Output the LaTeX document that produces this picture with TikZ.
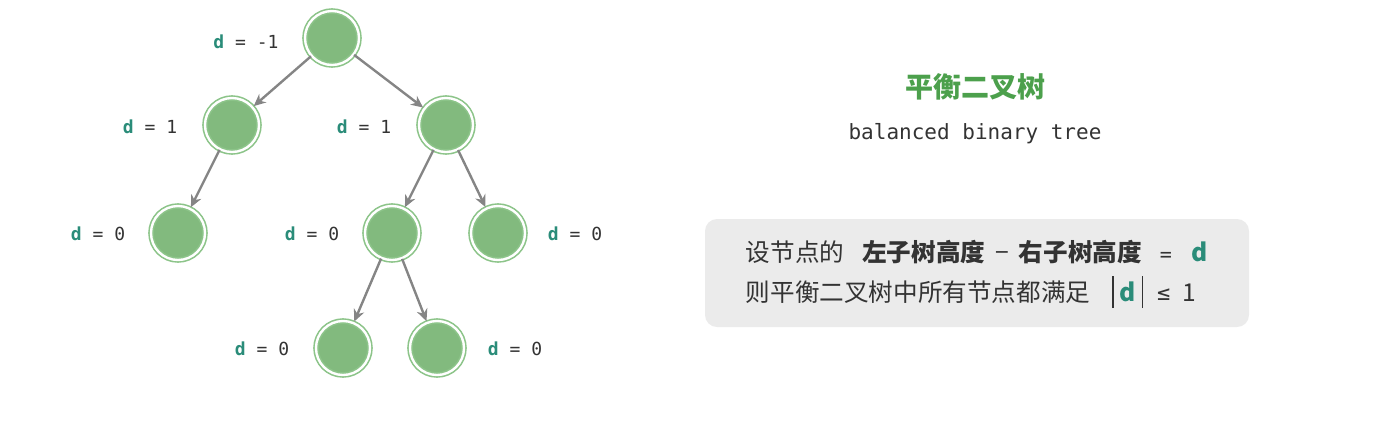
\documentclass[tikz,border=0pt]{standalone}
\usepackage{fontspec}
\usetikzlibrary{arrows.meta}
\setmonofont{DejaVu Sans Mono}
\newfontfamily\cjk{Noto Sans CJK SC}
\definecolor{nodefill}{HTML}{82BA7E}
\definecolor{nodering}{HTML}{8CC489}
\definecolor{edgegray}{HTML}{858585}
\definecolor{dteal}{HTML}{2A8C79}
\definecolor{titlegreen}{HTML}{4CA04C}
\definecolor{textgray}{HTML}{333333}
\definecolor{boxgray}{HTML}{EBEBEB}
\newcommand{\dd}{\textcolor{dteal}{\bfseries d}}
\newcommand{\vbar}{\rule[-3.5pt]{0.7pt}{16pt}}

\begin{document}
\begin{tikzpicture}[
  x = 0.5pt,
  y = -0.5pt,
  treenode/.style = {
    shape = circle,
    fill = nodefill,
    draw = nodering,
    double = white,
    double distance = 1.2pt,
    line width = 0.8pt,
    minimum size = 27pt,
    inner sep = 0pt,
  },
  dlabel/.style = {
    font = \ttfamily\fontsize{9}{10}\selectfont,
    text = textgray,
  },
  arr/.style = {
    -{Stealth[length = 6pt, width = 5.5pt]},
    draw = edgegray,
    line width = 1.2pt,
    shorten > = 0.5pt,
  },
  every path/.style = {
    thick
  }
]
  \useasboundingbox (0, 0) rectangle (1376, 430);

  % tree
  \node[treenode] (n1) at (332, 38) {};
  \node[treenode] (n2) at (232, 125) {};
  \node[treenode] (n3) at (446, 125) {};
  \node[treenode] (n4) at (178, 233) {};
  \node[treenode] (n5) at (392, 233) {};
  \node[treenode] (n6) at (498, 233) {};
  \node[treenode] (n7) at (343, 348) {};
  \node[treenode] (n8) at (437, 348) {};

  \draw[arr] (n1) -- (n2);
  \draw[arr] (n1) -- (n3);
  \draw[arr] (n2) -- (n4);
  \draw[arr] (n3) -- (n5);
  \draw[arr] (n3) -- (n6);
  \draw[arr] (n5) -- (n7);
  \draw[arr] (n5) -- (n8);

  % balance factors
  \node[dlabel] (d1) at (246, 42) {\dd{} = -1};
  \node[dlabel] (d2) at (150, 127) {\dd{} = 1};
  \node[dlabel] (d3) at (364, 127) {\dd{} = 1};
  \node[dlabel] (d4) at (98, 234) {\dd{} = 0};
  \node[dlabel] (d5) at (312, 234) {\dd{} = 0};
  \node[dlabel] (d6) at (575, 234) {\dd{} = 0};
  \node[dlabel] (d7) at (262, 349) {\dd{} = 0};
  \node[dlabel] (d8) at (515, 349) {\dd{} = 0};

  % title
  \node[font = \cjk\bfseries\fontsize{14}{16}\selectfont, text = titlegreen]
    (title) at (975, 87) {平衡二叉树};
  \node[font = \ttfamily\fontsize{10.5}{12}\selectfont, text = textgray]
    (subtitle) at (975, 134) {balanced binary tree};

  % condition
  \node[fill = boxgray, rounded corners = 6pt, minimum width = 272pt,
        minimum height = 54pt, inner sep = 0pt]
    (info) at (977, 273) {};
  \node[anchor = west, inner sep = 0pt, align = left, text = textgray,
        font = \cjk\fontsize{12.3}{20}\selectfont]
    (cond) at (745, 274)
    {设节点的\hspace{9pt}\textbf{左子树高度}\hspace{5pt}−\hspace{5pt}\textbf{右子树高度}\hspace{9pt}{\ttfamily\fontsize{10}{10}\selectfont =}\hspace{10pt}\dd\\
     则平衡二叉树中所有节点都满足\hspace{11pt}\vbar\hspace{3pt}\dd\hspace{3pt}\vbar\hspace{7pt}{\ttfamily\fontsize{11}{11}\selectfont\raisebox{0.5pt}{≤}}\hspace{6pt}1};
\end{tikzpicture}
\end{document}
